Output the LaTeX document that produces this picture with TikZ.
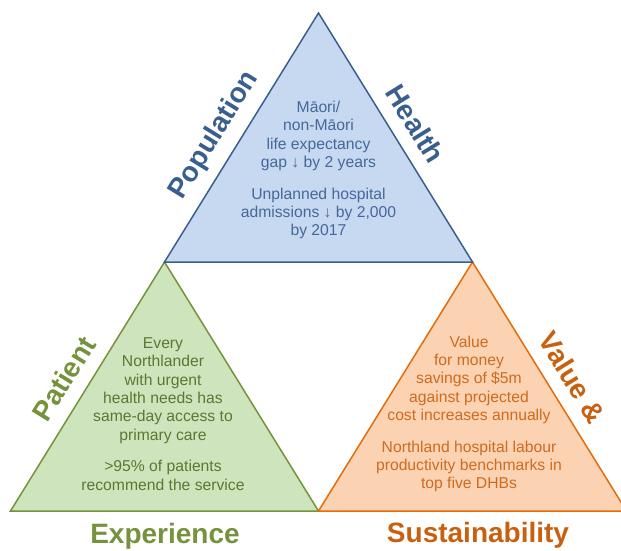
\documentclass[tikz,border=0pt]{standalone}
\usepackage{fontspec}
\setmainfont{Liberation Sans}
\definecolor{PopLine}{HTML}{3A5F8E}
\definecolor{PopFill}{HTML}{C6D9F1}
\definecolor{PopText}{HTML}{45689A}
\definecolor{PatLine}{HTML}{76923C}
\definecolor{PatFill}{HTML}{CEE4BC}
\definecolor{PatText}{HTML}{5E7631}
\definecolor{ValLine}{HTML}{E46C0A}
\definecolor{ValFill}{HTML}{FBD3B2}
\definecolor{ValText}{HTML}{CF6B1E}
\definecolor{ValLabel}{HTML}{C8600F}
\usetikzlibrary{calc}

\begin{document}
\begin{tikzpicture}[
  x=1pt,y=1pt,
  tri/.style={line width=1.5pt},
  txt/.style={align=center,inner sep=0pt,font=\fontsize{15.7}{18.3}\selectfont},
  lbl/.style={inner sep=0pt,font=\fontsize{28}{32}\selectfont\bfseries}
]
\useasboundingbox (0,0) rectangle (621,550);
\clip (0,0) rectangle (621,550);

% corners of the three triangles
\coordinate (top) at (318.5,537);
\coordinate (midl) at (164.5,288);
\coordinate (midr) at (472.5,288);
\coordinate (botl) at (10.5,39);
\coordinate (botm) at (318.5,39);
\coordinate (botr) at (626.5,39);

\draw[tri,draw=PatLine,fill=PatFill] (botl) -- (botm) -- (midl) -- cycle;
\draw[tri,draw=ValLine,fill=ValFill] (botm) -- (botr) -- (midr) -- cycle;
\draw[tri,draw=PopLine,fill=PopFill] (midl) -- (midr) -- (top) -- cycle;

% texts inside
\node[txt,text=PopText] (popgoals) at (318.5,380) {Māori/\\non-Māori\\life expectancy\\gap ↓ by 2 years\\[13.4pt]Unplanned hospital\\admissions ↓ by 2,000\\by 2017};
\node[txt,text=PatText] (patgoals) at (163,136) {Every\\Northlander\\with urgent\\health needs has\\same-day access to\\primary care\\[13.4pt]>95\% of patients\\recommend the service};
\node[txt,text=ValText] (valgoals) at (469,136) {Value\\for money\\savings of \$5m\\against projected\\cost increases annually\\[13.4pt]Northland hospital labour\\productivity benchmarks in\\top five DHBs};

% side labels
\node[lbl,text=PopLine,rotate=58.27] (population) at ($(midl)!0.457!(top)!24pt!90:(top)$) {Population};
\node[lbl,text=PopLine,rotate=-58.27] (health) at ($(top)!0.496!(midr)!24pt!90:(midr)$) {Health};
\node[lbl,text=PatLine,rotate=58.27] (patient) at ($(botl)!0.48!(midl)!24pt!90:(midl)$) {Patient};
\node[lbl,text=ValLabel,rotate=-58.27] (value) at ($(midr)!0.515!(botr)!24pt!90:(botr)$) {Value \&};
\node[lbl,text=PatLine,anchor=base] (experience) at (165,7) {Experience};
\node[lbl,text=ValLabel,anchor=base] (sustain) at (478,8) {Sustainability};
\end{tikzpicture}
\end{document}
